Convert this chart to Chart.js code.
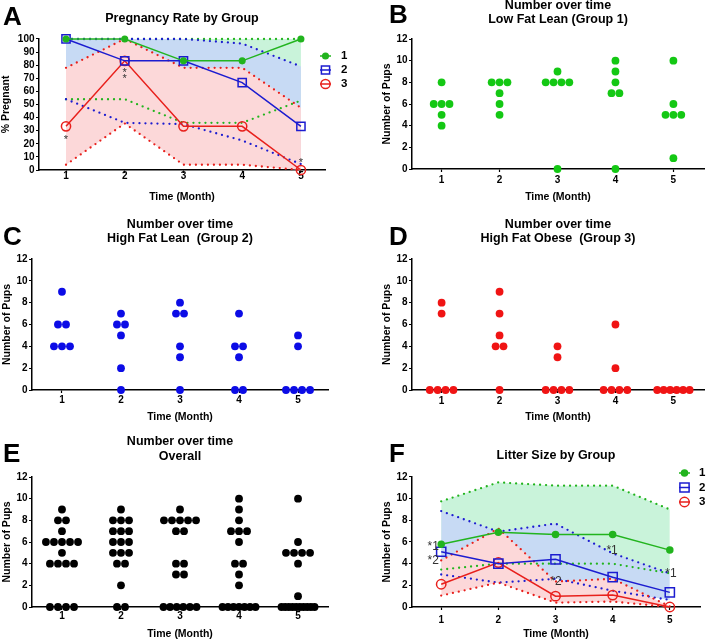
<!DOCTYPE html>
<html>
<head>
<meta charset="utf-8">
<script src="https://cdn.jsdelivr.net/npm/chart.js@4/dist/chart.umd.min.js"></script>
<style>
  html, body { margin: 0; padding: 0; background: #fff; }
  #fig { position: relative; width: 708px; height: 641px; overflow: hidden; }
  canvas { position: absolute; }
  .letter { position: absolute; font: bold 26px 'Liberation Sans', Arial, sans-serif; line-height: 26px; color: #000; }
</style>
</head>
<body>
<div id="fig">
  <canvas id="cA" width="354" height="215" style="left:0;top:0"></canvas>
  <canvas id="cB" width="354" height="215" style="left:354px;top:0"></canvas>
  <canvas id="cC" width="354" height="215" style="left:0;top:215px"></canvas>
  <canvas id="cD" width="354" height="215" style="left:354px;top:215px"></canvas>
  <canvas id="cE" width="354" height="211" style="left:0;top:430px"></canvas>
  <canvas id="cF" width="354" height="211" style="left:354px;top:430px"></canvas>
  <div class="letter" style="left:3px;top:3px">A</div>
  <div class="letter" style="left:389px;top:1px">B</div>
  <div class="letter" style="left:3px;top:223px">C</div>
  <div class="letter" style="left:389px;top:223px">D</div>
  <div class="letter" style="left:3px;top:440px">E</div>
  <div class="letter" style="left:389px;top:440px">F</div>
</div>
<script>
const months = [1, 2, 3, 4, 5];
const groupNames = ['1', '2', '3'];

// A: pregnancy rate (%) with dotted confidence bands
const pregMean1 = [100, 100, 83.3, 83.3, 100];
const pregMean2 = [100, 83.3, 83.3, 66.7, 33.3];
const pregMean3 = [33.3, 83.3, 33.3, 33.3, 0];
const pregHi1 = [100, 100, 100, 100, 100];
const pregLo1 = [54, 54, 36, 36, 53];
const pregHi2 = [100, 100, 100, 96.5, 79];
const pregLo2 = [54, 36, 35, 22.5, 4.5];
const pregHi3 = [78, 100, 78, 78, 47.5];
const pregLo3 = [4, 35.5, 4, 4, 0];
const pregStars = [
  {x: 1, y: 25, t: '*'}, {x: 2, y: 76, t: '*'}, {x: 2, y: 71.5, t: '*'}, {x: 5, y: 8, t: '*'}
];

// B-D: pups per dam, one list per month
const pupsG1 = [[8, 6, 6, 6, 5, 4], [8, 8, 8, 7, 6, 5], [9, 8, 8, 8, 8, 0], [10, 9, 8, 7, 7, 0], [10, 6, 5, 5, 5, 1]];
const pupsG2 = [[9, 6, 6, 4, 4, 4], [7, 6, 6, 5, 2, 0], [8, 7, 7, 4, 3, 0], [7, 4, 4, 3, 0, 0], [5, 4, 0, 0, 0, 0]];
const pupsG3 = [[8, 7, 0, 0, 0, 0], [9, 7, 5, 4, 4, 0], [4, 3, 0, 0, 0, 0], [6, 2, 0, 0, 0, 0], [0, 0, 0, 0, 0, 0]];
// E: all groups together
const pupsAll = months.map((m, i) => pupsG1[i].concat(pupsG2[i], pupsG3[i]));

// F: litter size with dotted confidence bands
const litMean1 = [5.8, 6.9, 6.7, 6.7, 5.25];
const litMean2 = [5.1, 4.0, 4.4, 2.75, 1.35];
const litMean3 = [2.1, 4.1, 1.0, 1.1, 0];
const litHi1 = [9.75, 11.5, 11.2, 11.2, 9.0];
const litLo1 = [3.45, 4.0, 4.0, 4.0, 3.1];
const litHi2 = [8.85, 6.95, 7.7, 4.95, 3.1];
const litLo2 = [3.0, 2.25, 2.6, 1.5, 0.65];
const litHi3 = [4.3, 7.25, 2.35, 2.6, 0.05];
const litLo3 = [1.05, 2.25, 0.4, 0.5, 0];
const litNotes = [
  {x: 0.86, y: 5.55, t: '*1'}, {x: 0.86, y: 4.25, t: '*2'}, {x: 3.01, y: 2.35, t: '*2'},
  {x: 3.99, y: 5.2, t: '*1'}, {x: 5.02, y: 3.05, t: '*1'}
];

const GREEN = '#22b41e', BLUE = '#1c1cd0', RED = '#e8201c';
const FILL_G = '#c9f3da', FILL_B = '#c7daf4', FILL_R = '#fcd8d9';

Chart.defaults.font.family = "'Liberation Sans', Arial, sans-serif";
Chart.defaults.font.weight = 'bold';
Chart.defaults.color = '#000';

const pairs = ys => months.map((m, i) => ({x: m, y: ys[i]}));

// column scatter: identical values sit side by side around the month
function spread(cols) {
  const pts = [];
  cols.forEach((vals, i) => {
    const counts = {};
    vals.forEach(v => { counts[v] = (counts[v] || 0) + 1; });
    Object.keys(counts).forEach(k => {
      const n = counts[k];
      const step = n > 1 ? Math.min(0.136, 0.56 / (n - 1)) : 0;
      for (let j = 0; j < n; j++) pts.push({x: months[i] + (j - (n - 1) / 2) * step, y: +k});
    });
  });
  return pts;
}

function meanSet(ys, color, style, r, filled) {
  return {
    data: pairs(ys), borderColor: color, backgroundColor: color, borderWidth: 1.5,
    pointStyle: style, pointRadius: r, pointBorderWidth: 1.5, pointBorderColor: color,
    pointBackgroundColor: filled ? color : 'rgba(0,0,0,0)', fill: false, clip: false, tension: 0
  };
}

function bandSet(ys, color, fillColor) {
  return {
    data: pairs(ys), borderColor: color, borderWidth: 2.3, borderDash: [0, 6], borderCapStyle: 'round',
    pointRadius: 0, fill: fillColor ? '+1' : false, backgroundColor: fillColor || 'rgba(0,0,0,0)',
    clip: false, tension: 0
  };
}

const groupLegend = {
  id: 'groupLegend',
  afterDraw(chart, args, o) {
    if (!o.x) return;
    const ctx = chart.ctx;
    ctx.save();
    groupNames.forEach((name, i) => {
      const ds = chart.data.datasets[i];
      const y = o.y + i * o.gap;
      ctx.strokeStyle = ds.borderColor;
      ctx.lineWidth = 1.5;
      ctx.beginPath();
      ctx.moveTo(o.x - o.half, y);
      ctx.lineTo(o.x + o.half, y);
      ctx.stroke();
      ctx.fillStyle = ds.pointBackgroundColor;
      ctx.beginPath();
      const r = ds.pointRadius;
      if (ds.pointStyle === 'rect') {
        const s = r * Math.SQRT1_2;
        ctx.rect(o.x - s, y - s, 2 * s, 2 * s);
      } else {
        ctx.arc(o.x, y, r, 0, Math.PI * 2);
      }
      ctx.fill();
      ctx.stroke();
      ctx.fillStyle = '#000';
      ctx.font = "bold 11.5px 'Liberation Sans', Arial, sans-serif";
      ctx.textBaseline = 'middle';
      ctx.textAlign = 'left';
      ctx.fillText(name, o.textX, y);
    });
    ctx.restore();
  }
};

const starNotes = {
  id: 'starNotes',
  afterDatasetsDraw(chart, args, o) {
    if (!o.items) return;
    const {ctx, scales: {x, y}} = chart;
    ctx.save();
    ctx.font = o.font;
    ctx.fillStyle = '#333';
    ctx.textAlign = 'center';
    ctx.textBaseline = 'middle';
    o.items.forEach(n => ctx.fillText(n.t, x.getPixelForValue(n.x), y.getPixelForValue(n.y) + o.dy));
    ctx.restore();
  }
};

function axes(p) {
  const grid = {drawOnChartArea: false, color: '#000', tickLength: 3, tickWidth: 1.2};
  const border = {color: '#000', width: 1.5};
  return {
    x: {
      type: 'linear', min: p.xmin, max: p.xmax,
      afterBuildTicks: s => { s.ticks = months.map(v => ({value: v})); },
      afterFit: s => { s.height = p.xh; },
      grid, border,
      ticks: {padding: p.xpad, font: {size: 10, weight: 'bold'}},
      title: {display: true, text: 'Time (Month)', font: {size: 10.5, weight: 'bold'}, padding: {top: 0, bottom: p.xtpad}}
    },
    y: {
      type: 'linear', min: 0, max: p.ymax,
      afterFit: s => { s.width = p.yw; },
      grid, border,
      ticks: {stepSize: p.ystep, autoSkip: false, padding: 1.5, font: {size: 10, weight: 'bold'}},
      title: {display: true, text: p.ytitle, font: {size: 10.5, weight: 'bold'}, padding: {top: p.ytpad, bottom: 0}}
    }
  };
}

function options(p) {
  return {
    responsive: false, animation: false, events: [],
    layout: {padding: {top: 0, left: 0, right: p.padRight, bottom: 0}},
    plugins: {
      legend: {display: false},
      tooltip: {enabled: false},
      filler: {drawTime: 'beforeDatasetsDraw'},
      title: {
        display: true, text: p.title, fullSize: false, color: '#000',
        font: {size: 12.5, weight: 'bold', lineHeight: 1.15},
        padding: {top: p.titleTop, bottom: p.titleBottom}
      },
      groupLegend: p.legend || {},
      starNotes: p.notes || {}
    },
    scales: axes(p)
  };
}

function dotPlot(id, cols, color, p) {
  new Chart(document.getElementById(id), {
    type: 'scatter',
    data: {datasets: [{data: spread(cols), backgroundColor: color, borderWidth: 0, pointRadius: 3.9, clip: false}]},
    options: options(p)
  });
}

// A
new Chart(document.getElementById('cA'), {
  type: 'line',
  data: {datasets: [
    meanSet(pregMean1, GREEN, 'circle', 2.8, true),
    meanSet(pregMean2, BLUE, 'rect', 5.8, false),
    meanSet(pregMean3, RED, 'circle', 4.6, false),
    bandSet(pregHi3, RED, FILL_R), bandSet(pregLo3, RED),
    bandSet(pregHi2, BLUE, FILL_B), bandSet(pregLo2, BLUE),
    bandSet(pregHi1, GREEN, FILL_G), bandSet(pregLo1, GREEN)
  ]},
  options: options({
    title: 'Pregnancy Rate by Group', titleTop: 11.3, titleBottom: 13.3, padRight: 29,
    yw: 39, ytitle: '% Pregnant', ytpad: 0, ymax: 100, ystep: 10,
    xmin: 0.54, xmax: 5.41, xh: 45, xpad: -2.5, xtpad: 11.7,
    legend: {x: 325.5, half: 5.5, y: 56, gap: 14, textX: 341},
    notes: {items: pregStars, font: "11px 'Liberation Sans', Arial, sans-serif", dy: 3}
  }),
  plugins: [groupLegend, starNotes]
});

// B, C, D, E
dotPlot('cB', pupsG1, '#14c814', {
  title: ['Number over time', 'Low Fat Lean (Group 1)'], titleTop: -2, titleBottom: 12.25, padRight: 0,
  yw: 58, ytitle: 'Number of Pups', ytpad: 26.7, ymax: 12, ystep: 2,
  xmin: 0.489, xmax: 5.528, xh: 46, xpad: 2, xtpad: 11.7
});
dotPlot('cC', pupsG2, '#0c0ce6', {
  title: ['Number over time', 'High Fat Lean  (Group 2)'], titleTop: 2.1, titleBottom: 13.15, padRight: 26,
  yw: 32, ytitle: 'Number of Pups', ytpad: 0.7, ymax: 12, ystep: 2,
  xmin: 0.492, xmax: 5.508, xh: 40, xpad: 1, xtpad: 6.7
});
dotPlot('cD', pupsG3, '#f01414', {
  title: ['Number over time', 'High Fat Obese  (Group 3)'], titleTop: 2.1, titleBottom: 13.15, padRight: 0,
  yw: 58, ytitle: 'Number of Pups', ytpad: 26.7, ymax: 12, ystep: 2,
  xmin: 0.489, xmax: 5.528, xh: 40, xpad: 2, xtpad: 6.7
});
dotPlot('cE', pupsAll, '#000', {
  title: ['Number over time', 'Overall'], titleTop: 4.8, titleBottom: 13.45, padRight: 26,
  yw: 32, ytitle: 'Number of Pups', ytpad: 0.7, ymax: 12, ystep: 2,
  xmin: 0.492, xmax: 5.508, xh: 34, xpad: 0.7, xtpad: 0.7
});

// F
new Chart(document.getElementById('cF'), {
  type: 'line',
  data: {datasets: [
    meanSet(litMean1, GREEN, 'circle', 3, true),
    meanSet(litMean2, BLUE, 'rect', 6.5, false),
    meanSet(litMean3, RED, 'circle', 4.7, false),
    bandSet(litHi3, RED, FILL_R), bandSet(litLo3, RED),
    bandSet(litHi2, BLUE, FILL_B), bandSet(litLo2, BLUE),
    bandSet(litHi1, GREEN, FILL_G), bandSet(litLo1, GREEN)
  ]},
  options: options({
    title: 'Litter Size by Group', titleTop: 18.8, titleBottom: 13.8, padRight: 0,
    yw: 58, ytitle: 'Number of Pups', ytpad: 26.7, ymax: 12, ystep: 2,
    xmin: 0.489, xmax: 5.528, xh: 34, xpad: 4.5, xtpad: 0.7,
    legend: {x: 330.5, half: 5.5, y: 43, gap: 14.5, textX: 345},
    notes: {items: litNotes, font: "12px 'Liberation Sans', Arial, sans-serif", dy: 0}
  }),
  plugins: [groupLegend, starNotes]
});
</script>
</body>
</html>
